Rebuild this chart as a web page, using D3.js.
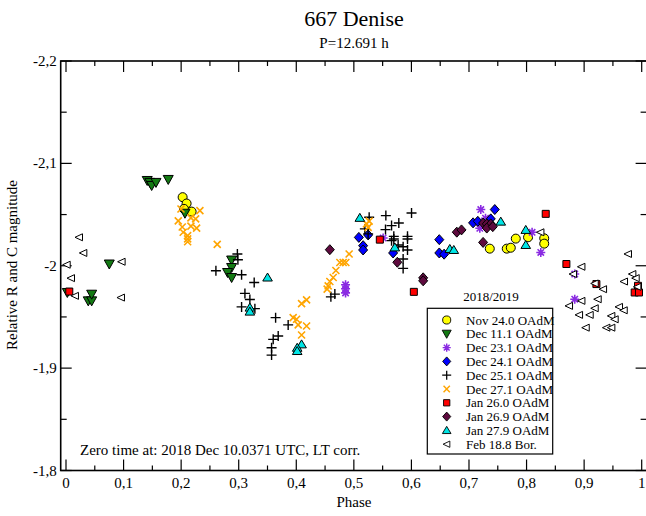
<!DOCTYPE html>
<html><head><meta charset="utf-8">
<script src="https://cdn.jsdelivr.net/npm/d3@7"></script>
<style>body{margin:0;background:#fff}svg{display:block}text{font-family:"Liberation Serif","Times New Roman",serif;fill:#000}</style>
</head><body><svg id="c" width="646" height="516"></svg>
<script>
// ---- data: [phase, relative magnitude] ----
const nov24 = [[0.2026,-2.0670],[0.2095,-2.0608],[0.2049,-2.0556],[0.2182,-2.0529],[0.7361,-2.0167],[0.7656,-2.0167],[0.7726,-2.0176],[0.7813,-2.0265],[0.8026,-2.0278],[0.8307,-2.0268],[0.8307,-2.0216]];
const dec11 = [[0.1411,-2.0833],[0.1458,-2.0814],[0.1488,-2.0784],[0.1563,-2.0814],[0.1776,-2.0843],[0.2066,-2.0513],[0.2877,-2.0056],[0.2877,-1.9983],[0.2807,-1.9934],[0.2877,-1.9885],[0.0023,-1.9739],[0.0387,-1.9657],[0.0446,-1.9657],[0.0446,-1.9722],[0.0752,-2.0017]];
const dec23 = [[0.4856,-1.9814],[0.4856,-1.9775],[0.4856,-1.9735],[0.5509,-2.0271],[0.7205,-2.0549],[0.7287,-2.0464],[0.7188,-2.0366],[0.8096,-2.0327],[0.8247,-2.0130],[0.8837,-1.9919],[0.8837,-1.9673]];
const dec24 = [[0.5087,-2.0277],[0.5161,-2.0196],[0.5161,-2.0154],[0.5248,-2.0301],[0.5682,-2.0125],[0.6484,-2.0255],[0.6484,-2.0125],[0.6568,-2.0113],[0.7071,-2.0419],[0.7153,-2.0434],[0.7378,-2.0458],[0.7448,-2.0549]];
const dec25 = [[0.2604,-1.9951],[0.2977,-2.0115],[0.2986,-2.0059],[0.3050,-1.9912],[0.3269,-1.9836],[0.3108,-1.9730],[0.3194,-1.9670],[0.3050,-1.9598],[0.3281,-1.9581],[0.3641,-1.9493],[0.3859,-1.9422],[0.3686,-1.9314],[0.3599,-1.9281],[0.3571,-1.9199],[0.3571,-1.9127],[0.4601,-1.9696],[0.4670,-1.9723],[0.5266,-2.0474],[0.5191,-2.0360],[0.5248,-2.0311],[0.5556,-2.0490],[0.5550,-2.0353],[0.5655,-2.0392],[0.5781,-2.0417],[0.6002,-2.0515],[0.5694,-2.0287],[0.5694,-2.0262],[0.5932,-2.0287],[0.5932,-2.0262],[0.5655,-2.0245],[0.5769,-2.0203],[0.5856,-2.0186],[0.5932,-2.0154],[0.5856,-2.0066],[0.5856,-1.9974]];
const dec27 = [[0.1997,-2.0554],[0.2326,-2.0539],[0.1950,-2.0438],[0.2170,-2.0468],[0.2252,-2.0458],[0.2019,-2.0378],[0.2170,-2.0387],[0.2269,-2.0368],[0.2036,-2.0327],[0.2113,-2.0294],[0.2113,-2.0262],[0.2113,-2.0235],[0.2627,-2.0209],[0.4092,-1.9630],[0.4179,-1.9667],[0.3946,-1.9493],[0.4005,-1.9477],[0.4033,-1.9422],[0.4179,-1.9412],[0.4092,-1.9324],[0.4536,-1.9772],[0.4554,-1.9804],[0.4583,-1.9846],[0.4641,-1.9885],[0.4688,-1.9954],[0.4757,-2.0032],[0.4814,-2.0032],[0.4861,-2.0032],[0.4918,-2.0115],[0.5220,-2.0409],[0.5266,-2.0436],[0.5248,-2.0375]];
const jan260 = [[0.0057,-1.9748],[0.5451,-2.0255],[0.6042,-1.9745],[0.8333,-2.0507],[0.8692,-2.0017],[0.9213,-1.9821],[0.9936,-1.9804],[0.9878,-1.9739],[0.9953,-1.9739]];
const jan269 = [[0.4583,-2.0157],[0.5755,-2.0034],[0.6204,-1.9882],[0.6204,-1.9853],[0.6788,-2.0328],[0.6870,-2.0350],[0.7245,-2.0228],[0.7245,-2.0417],[0.7309,-2.0409],[0.7378,-2.0409],[0.7309,-2.0368],[0.7413,-2.0382]];
const jan279 = [[0.3501,-1.9885],[0.3194,-1.9591],[0.3194,-1.9552],[0.4092,-1.9232],[0.4016,-1.9199],[0.4016,-1.9167],[0.5104,-2.0468],[0.5712,-2.0179],[0.6667,-2.0164],[0.6736,-2.0154],[0.7552,-2.0431],[0.7986,-2.0350],[0.7986,-2.0203]];
const feb188 = [[0.0226,-2.0278],[0.0301,-2.0125],[0.0012,-2.0010],[0.0087,-1.9879],[0.0156,-1.9706],[0.0966,-2.0039],[0.0955,-1.9689],[0.8241,-2.0327],[0.8953,-1.9990],[0.8808,-1.9919],[0.9184,-1.9827],[0.9329,-1.9771],[0.8953,-1.9657],[0.8738,-1.9608],[0.9236,-1.9673],[0.9184,-1.9585],[0.9097,-1.9520],[0.8912,-1.9520],[0.9028,-1.9395],[0.9387,-1.9395],[0.9473,-1.9395],[0.9473,-1.9510],[0.9531,-1.9477],[0.9606,-1.9598],[0.9688,-1.9565],[0.9693,-1.9846],[0.9762,-2.0115],[0.9838,-1.9919],[0.9896,-1.9879],[0.9925,-1.9794]];

const seriesNames = ["Nov 24.0 OAdM","Dec 11.1 OAdM","Dec 23.1 OAdM","Dec 24.1 OAdM","Dec 25.1 OAdM","Dec 27.1 OAdM","Jan 26.0 OAdM","Jan 26.9 OAdM","Jan 27.9 OAdM","Feb 18.8 Bor."];
const seriesData = [nov24,dec11,dec23,dec24,dec25,dec27,jan260,jan269,jan279,feb188];
const xTickLabels = ["0","0,1","0,2","0,3","0,4","0,5","0,6","0,7","0,8","0,9","1"];
const yTickLabels = ["-2,2","-2,1","-2","-1,9","-1,8"];

// ---- styles ----
const markers = [
  {d:"M0,0m-4.5,0a4.5,4.5 0 1,0 9,0a4.5,4.5 0 1,0 -9,0Z", fill:"#ffff00", stroke:"#000", sw:1},
  {d:"M-5,-4L5,-4L0,5Z", fill:"#137a13", stroke:"#000", sw:1},
  {d:"M-4.5,0H4.5M0,-4.5V4.5M-3.2,-3.2L3.2,3.2M-3.2,3.2L3.2,-3.2", fill:"none", stroke:"#8a2be2", sw:1.6},
  {d:"M0,-5L4.5,0L0,5L-4.5,0Z", fill:"#0000ff", stroke:"#000", sw:1},
  {d:"M-5,0H5M0,-5V5", fill:"none", stroke:"#000", sw:1.4},
  {d:"M-3.5,-3.5L3.5,3.5M-3.5,3.5L3.5,-3.5", fill:"none", stroke:"#ffa500", sw:1.6},
  {d:"M-3.5,-3.5H3.5V3.5H-3.5Z", fill:"#ff0000", stroke:"#000", sw:1},
  {d:"M0,-5L4.5,0L0,5L-4.5,0Z", fill:"#5e0a3e", stroke:"#000", sw:1},
  {d:"M0,-4.5L4.8,3.5L-4.8,3.5Z", fill:"#00e5e5", stroke:"#000", sw:1},
  {d:"M-4,0L3.5,-3.5L3.5,3.5Z", fill:"#fff", stroke:"#000", sw:1}
];

const svg = d3.select("#c");
const L = 60.7, R = 647.6, T = 61, B = 470.5;
const x = d3.scaleLinear().domain([0,1]).range([66,641.7]);
const y = d3.scaleLinear().domain([-2.2,-1.8]).range([T,B]);

// titles
svg.append("text").attr("x",354).attr("y",26).attr("text-anchor","middle").attr("font-size",22).text("667 Denise");
svg.append("text").attr("x",354).attr("y",48).attr("text-anchor","middle").attr("font-size",15).text("P=12.691 h");
svg.append("text").attr("transform","translate(17,265) rotate(-90)").attr("text-anchor","middle").attr("font-size",15).text("Relative R and C magnitude");
svg.append("text").attr("x",354).attr("y",507).attr("text-anchor","middle").attr("font-size",15).text("Phase");

// ticks
const g = svg.append("g").attr("stroke","#000").attr("fill","none");
const xMaj = x.ticks(10), xMin = x.ticks(20).filter(v=>!xMaj.some(m=>Math.abs(m-v)<1e-9));
const yMaj = y.ticks(4), yMin = y.ticks(8).filter(v=>!yMaj.some(m=>Math.abs(m-v)<1e-9));
xMaj.forEach(v=>{g.append("line").attr("x1",x(v)).attr("x2",x(v)).attr("y1",B).attr("y2",B-11).attr("stroke-width",1.2);
  g.append("line").attr("x1",x(v)).attr("x2",x(v)).attr("y1",T).attr("y2",T+11).attr("stroke-width",1.2);});
xMin.forEach(v=>{g.append("line").attr("x1",x(v)).attr("x2",x(v)).attr("y1",B).attr("y2",B-5).attr("stroke-width",1.2);
  g.append("line").attr("x1",x(v)).attr("x2",x(v)).attr("y1",T).attr("y2",T+5).attr("stroke-width",1.2);});
yMaj.forEach(v=>{g.append("line").attr("y1",y(v)).attr("y2",y(v)).attr("x1",L).attr("x2",L+11).attr("stroke-width",1.2);
  g.append("line").attr("y1",y(v)).attr("y2",y(v)).attr("x1",R).attr("x2",R-12).attr("stroke-width",1.2);});
yMin.forEach(v=>{g.append("line").attr("y1",y(v)).attr("y2",y(v)).attr("x1",L).attr("x2",L+6).attr("stroke-width",1.2);
  g.append("line").attr("y1",y(v)).attr("y2",y(v)).attr("x1",R).attr("x2",R-7).attr("stroke-width",1.2);});
g.append("rect").attr("x",L).attr("y",T).attr("width",R-L).attr("height",B-T).attr("stroke-width",1.6);

xMaj.forEach((v,i)=>svg.append("text").attr("x",x(v)).attr("y",B+17).attr("text-anchor","middle").attr("font-size",15).text(xTickLabels[i]));
yMaj.forEach((v,i)=>svg.append("text").attr("x",L-4).attr("y",y(v)+5).attr("text-anchor","end").attr("font-size",15).text(yTickLabels[i]));

// annotation
svg.append("text").attr("x",80).attr("y",455).attr("font-size",15).text("Zero time at: 2018 Dec 10.0371 UTC, LT corr.");

// points
seriesData.forEach((data,i)=>{
  const m = markers[i];
  svg.append("g").selectAll("path").data(data).join("path")
    .attr("transform",d=>`translate(${x(d[0])},${y(d[1])})`)
    .attr("d",m.d).attr("fill",m.fill).attr("stroke",m.stroke).attr("stroke-width",m.sw);
});

// legend
svg.append("text").attr("x",491).attr("y",300.5).attr("text-anchor","middle").attr("font-size",13).text("2018/2019");
svg.append("rect").attr("x",427.3).attr("y",308.3).attr("width",125.4).attr("height",145.7).attr("fill","#fff").attr("stroke","#000").attr("stroke-width",1.2);
seriesNames.forEach((n,i)=>{
  const cy = 320 + i*13.8, m = markers[i];
  svg.append("path").attr("transform",`translate(446.7,${cy}) scale(0.9)`).attr("d",m.d).attr("fill",m.fill).attr("stroke",m.stroke).attr("stroke-width",m.sw);
  svg.append("text").attr("x",466).attr("y",cy+4.5).attr("font-size",13).text(n);
});
</script></body></html>
